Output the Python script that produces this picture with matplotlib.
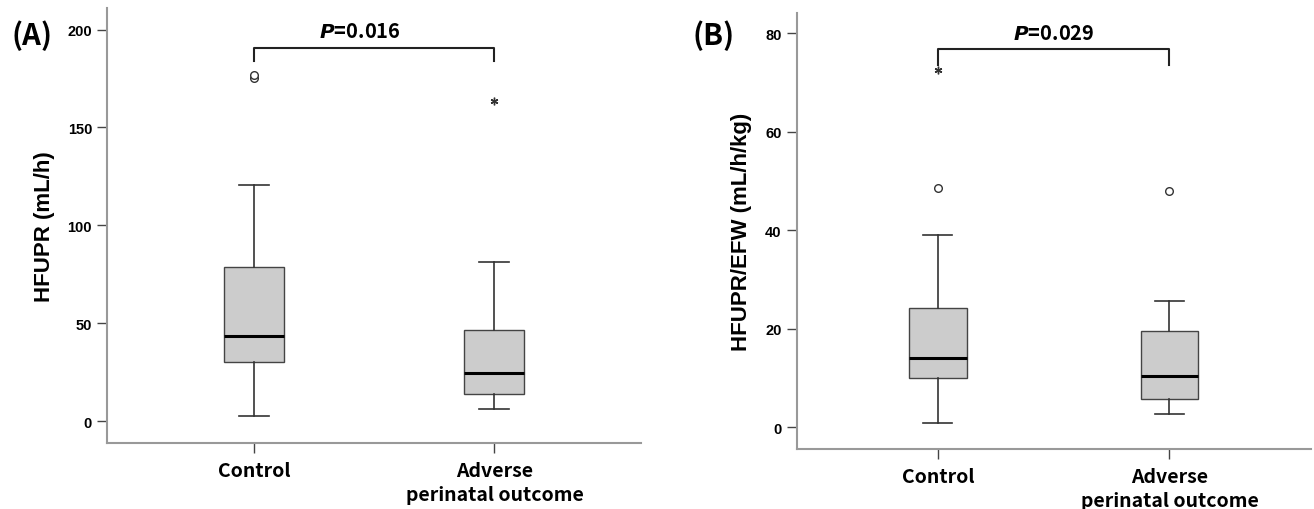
import matplotlib
matplotlib.use("Agg")
import matplotlib.pyplot as plt

# data
groups = ["Control", "Adverse\nperinatal outcome"]

# (A) HFUPR (mL/h)
a_q1 = [30.5, 13.8]
a_med = [43.6, 24.7]
a_q3 = [79.0, 46.7]
a_lo = [2.6, 6.1]
a_hi = [120.7, 81.2]
a_circles = [[175.2, 176.9], []]
a_stars = [[], [163.3]]
a_p = "0.016"

# (B) HFUPR/EFW (mL/h/kg)
b_q1 = [10.0, 5.7]
b_med = [14.05, 10.5]
b_q3 = [24.2, 19.55]
b_lo = [0.9, 2.7]
b_hi = [39.0, 25.6]
b_circles = [[48.5], [48.0]]
b_stars = [[72.6], []]
b_p = "0.029"

cat_font = "Noto Sans CJK KR"
num_font = "Liberation Sans"

fig = plt.figure(figsize=(13.14, 5.1), dpi=100)
axA = fig.add_axes([0.0817, 0.1294, 0.4062, 0.8529])
axB = fig.add_axes([0.6063, 0.1176, 0.3912, 0.8549])


def draw(ax, q1, med, q3, lo, hi, circles, stars, ylim, yticks, ylabel, ptxt, bar_y, bar_drop, p_x, p_y):
    stats = []
    for i in range(len(groups)):
        stats.append(dict(q1=q1[i], med=med[i], q3=q3[i], whislo=lo[i], whishi=hi[i],
                          fliers=circles[i], label=groups[i]))
    ax.bxp(stats, positions=[1, 2], widths=0.25, patch_artist=True,
           boxprops=dict(facecolor="#cccccc", edgecolor="#444444", linewidth=1.0),
           medianprops=dict(color="black", linewidth=2.2),
           whiskerprops=dict(color="#333333", linewidth=1.2),
           capprops=dict(color="#333333", linewidth=1.2),
           capwidths=0.125,
           flierprops=dict(marker="o", markersize=5.5, markerfacecolor="white",
                           markeredgecolor="#333333", markeredgewidth=1.0))
    for i, s in enumerate(stars):
        if s:
            ax.plot([i + 1] * len(s), s, linestyle="none", marker=(6, 2, 0),
                    markersize=5.5, color="#333333", markeredgewidth=1.0)

    ax.set_xlim(0.39, 2.61)
    ax.set_ylim(*ylim)
    ax.set_yticks(yticks)
    ax.set_xticks([1, 2])
    ax.set_xticklabels(groups, fontsize=14, fontweight="bold", family=cat_font,
                       linespacing=1.35)
    for lab in ax.get_yticklabels():
        lab.set_fontsize(10.5)
        lab.set_family(num_font)
        lab.set_fontweight("bold")
    ax.tick_params(axis="y", length=7, width=1.0, color="#444444", pad=4)
    ax.tick_params(axis="x", length=7, width=1.0, color="#444444", pad=6)
    for side in ["top", "right"]:
        ax.spines[side].set_visible(False)
    for side in ["left", "bottom"]:
        ax.spines[side].set_color("#999999")
        ax.spines[side].set_linewidth(1.5)
    ax.set_ylabel(ylabel, fontsize=16, fontweight="bold", family=num_font, labelpad=9)

    # significance bracket
    ax.plot([1, 1, 2, 2], [bar_drop, bar_y, bar_y, bar_drop], color="#222222", linewidth=1.5)
    ax.text(p_x, p_y, r"$\mathbfit{P}$=" + ptxt, ha="center", va="center",
            fontsize=14.5, fontweight="bold", family=cat_font)


draw(axA, a_q1, a_med, a_q3, a_lo, a_hi, a_circles, a_stars,
     (-11.1, 211), [0, 50, 100, 150, 200], "HFUPR (mL/h)", a_p, 190.8, 183.9, 1.44, 199.5)
draw(axB, b_q1, b_med, b_q3, b_lo, b_hi, b_circles, b_stars,
     (-4.4, 84.1), [0, 20, 40, 60, 80], "HFUPR/EFW (mL/h/kg)", b_p, 76.7, 73.6, 1.5, 80.2)

fig.text(0.024, 0.93, "(A)", fontsize=21, fontweight="bold", family=cat_font,
         ha="center", va="center")
fig.text(0.543, 0.93, "(B)", fontsize=21, fontweight="bold", family=cat_font,
         ha="center", va="center")

fig.savefig("out.png", dpi=100)
